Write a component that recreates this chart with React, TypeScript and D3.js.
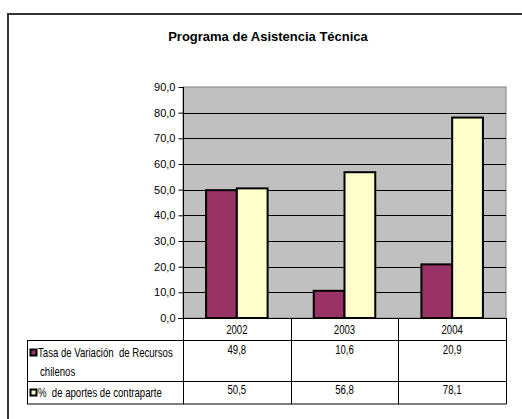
import { useEffect, useRef } from "react";
import * as d3 from "d3";

const years = ["2002", "2003", "2004"];
const seriesNames = ["Tasa de Variación  de Recursos chilenos", "%  de aportes de contraparte"];
const tasaVariacion = [49.8, 10.6, 20.9];
const aportesContraparte = [50.5, 56.8, 78.1];
const yTicks = [0, 10, 20, 30, 40, 50, 60, 70, 80, 90];
const colors = ["#993366", "#FFFFCC"];

const fmt = (v: number) => v.toFixed(1).replace(".", ",");

const App = () => {
  const ref = useRef<SVGSVGElement | null>(null);

  useEffect(() => {
    if (!ref.current) return;
    const svg = d3.select(ref.current);
    svg.selectAll("*").remove();

    const width = 522;
    const height = 419;
    const plot = { left: 183, right: 506, top: 87, bottom: 318 };
    const tableLeft = 27;
    const rowLines = [plot.bottom, 340.5, 381.5, 404];
    const sans = "'Liberation Sans', Arial, sans-serif";
    const squeeze = 0.8; // fake a narrow face
    const values = [tasaVariacion, aportesContraparte];

    svg.attr("width", width).attr("height", height);

    svg.append("rect").attr("width", width).attr("height", height).attr("fill", "#fff");

    // outer frame (only top and left visible)
    svg.append("path")
      .attr("d", `M8,${height} L8,14 L${width},14`)
      .attr("fill", "none")
      .attr("stroke", "#333")
      .attr("stroke-width", 2);

    // title
    svg.append("text")
      .attr("x", 268)
      .attr("y", 41)
      .attr("text-anchor", "middle")
      .attr("font-family", sans)
      .attr("font-weight", "bold")
      .attr("font-size", 13)
      .text("Programa de Asistencia Técnica");

    const x = d3.scaleBand().domain(years).range([plot.left, plot.right]);
    const bw = x.bandwidth() / 3.5;
    const xs = d3.scaleBand()
      .domain(seriesNames)
      .range([bw * 0.75, x.bandwidth() - bw * 0.75]);
    const y = d3.scaleLinear().domain([0, 90]).range([plot.bottom, plot.top]);

    // plot background
    svg.append("rect")
      .attr("x", plot.left)
      .attr("y", plot.top)
      .attr("width", plot.right - plot.left)
      .attr("height", plot.bottom - plot.top)
      .attr("fill", "#C0C0C0")
      .attr("stroke", "#808080")
      .attr("stroke-width", 1);

    // gridlines
    svg.append("g")
      .selectAll("line")
      .data(yTicks.filter(t => t > 0 && t < 90))
      .enter().append("line")
      .attr("x1", plot.left)
      .attr("x2", plot.right)
      .attr("y1", d => Math.round(y(d)) + 0.5)
      .attr("y2", d => Math.round(y(d)) + 0.5)
      .attr("stroke", "#000")
      .attr("stroke-width", 1);

    // bars
    values.forEach((vals, si) => {
      svg.append("g")
        .selectAll("rect")
        .data(vals)
        .enter().append("rect")
        .attr("x", (_, i) => (x(years[i]) as number) + (xs(seriesNames[si]) as number))
        .attr("y", d => y(d))
        .attr("width", xs.bandwidth())
        .attr("height", d => y(0) - y(d))
        .attr("fill", colors[si])
        .attr("stroke", "#000")
        .attr("stroke-width", 2);
    });

    // y axis
    const yAxis = svg.append("g")
      .attr("transform", `translate(${plot.left + 0.5},0)`)
      .call(d3.axisLeft(y).tickValues(yTicks).tickSize(5).tickPadding(3).tickFormat(d => fmt(d as number)));
    yAxis.select(".domain").attr("stroke", "#000").attr("d", `M0,${plot.top}V${plot.bottom}`);
    yAxis.selectAll("text")
      .attr("font-family", sans)
      .attr("font-size", 11)
      .attr("fill", "#000");

    // data table
    const t = svg.append("g").attr("stroke", "#000").attr("stroke-width", 1);
    t.append("line").attr("x1", plot.left - 5).attr("x2", plot.right + 0.5)
      .attr("y1", rowLines[0] + 0.5).attr("y2", rowLines[0] + 0.5);
    rowLines.slice(1).forEach(ry => {
      t.append("line").attr("x1", tableLeft).attr("x2", plot.right + 0.5)
        .attr("y1", ry).attr("y2", ry);
    });
    t.append("line").attr("x1", tableLeft + 0.5).attr("x2", tableLeft + 0.5)
      .attr("y1", rowLines[1]).attr("y2", rowLines[3]);
    const colEdges = [plot.left, ...years.map(yr => (x(yr) as number) + x.bandwidth())];
    colEdges.forEach(cx => {
      t.append("line").attr("x1", Math.round(cx) + 0.5).attr("x2", Math.round(cx) + 0.5)
        .attr("y1", rowLines[0]).attr("y2", rowLines[3]);
    });

    const tx = svg.append("g")
      .attr("font-family", sans)
      .attr("font-size", 12)
      .attr("fill", "#000");

    const put = (px: number, py: number, s: string, anchor = "start") =>
      tx.append("text")
        .attr("transform", `translate(${px},${py}) scale(${squeeze},1)`)
        .attr("text-anchor", anchor)
        .text(s.replace(/  /g, "\u00a0 "));

    years.forEach(yr => put((x(yr) as number) + x.bandwidth() / 2, 334, yr, "middle"));

    const rowBase = [356, 396];
    values.forEach((vals, si) => {
      vals.forEach((v, i) =>
        put((x(years[i]) as number) + x.bandwidth() / 2, si === 0 ? 354 : 394, fmt(v), "middle"));

      svg.append("rect")
        .attr("x", 30.5)
        .attr("y", rowBase[si] - 6.5)
        .attr("width", 6)
        .attr("height", 6)
        .attr("fill", colors[si])
        .attr("stroke", "#000")
        .attr("stroke-width", 2);
    });

    put(38, 357, "Tasa de Variación  de Recursos");
    put(40, 376, "chilenos");
    put(38, 397, "%  de aportes de contraparte");
  }, []);

  return (
    <div style={{ position: "absolute", left: 0, top: 0 }}>
      <svg ref={ref} style={{ display: "block" }}></svg>
    </div>
  );
};

export default App;
